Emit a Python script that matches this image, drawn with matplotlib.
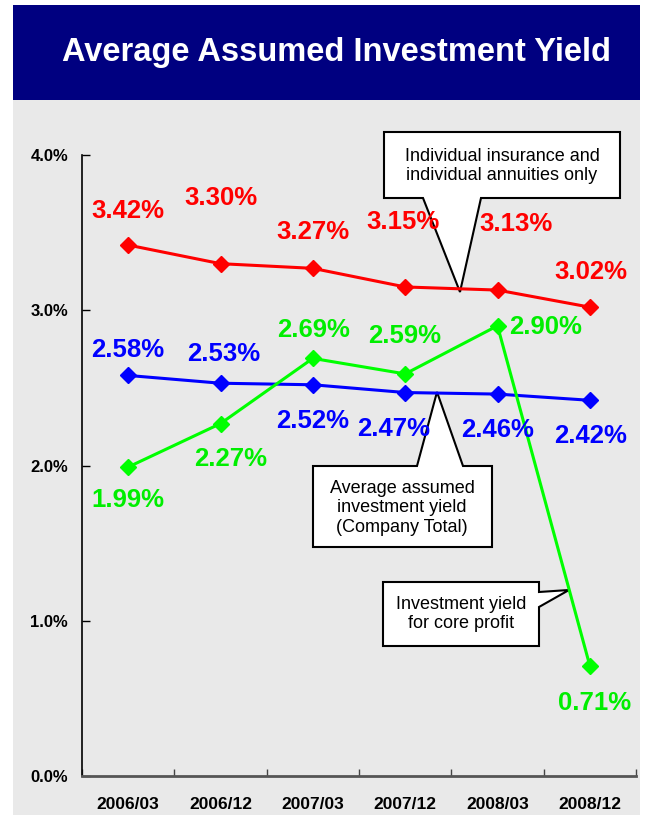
import matplotlib
matplotlib.use('Agg')
from matplotlib import pyplot as plt
from matplotlib.patches import Rectangle, Polygon

plt.rcParams['font.family'] = ['Liberation Sans', 'DejaVu Sans']

periods = ['2006/03', '2006/12', '2007/03', '2007/12', '2008/03', '2008/12']
individual = [3.42, 3.30, 3.27, 3.15, 3.13, 3.02]
company_total = [2.58, 2.53, 2.52, 2.47, 2.46, 2.42]
core_profit = [1.99, 2.27, 2.69, 2.59, 2.90, 0.71]
yticks = [0.0, 1.0, 2.0, 3.0, 4.0]

# label offsets in pixels (dx, dy)
red_off = [(0, 34), (0, 66), (0, 36), (-2, 65), (18, 66), (1, 35)]
blue_off = [(0, 25), (3, 29), (0, -36), (-12, -36), (0, -36), (1, -36)]
green_off = [(0, -33), (10, -35), (1, 28), (-1, 38), (48, -1), (5, -37)]

W, H = 650, 818
fig = plt.figure(figsize=(W / 100, H / 100), dpi=100)
fig.patch.set_facecolor('white')

# background panel + title banner
bg = fig.add_axes([0, 0, 1, 1], zorder=0)
bg.set_xlim(0, W)
bg.set_ylim(H, 0)
bg.axis('off')
bg.add_patch(Rectangle((13, 100), 627, 715, facecolor='#e9e9e9', edgecolor='none'))
bg.add_patch(Rectangle((13, 5), 627, 95, facecolor='#000080', edgecolor='none'))
bg.text(337, 53, 'Average Assumed Investment Yield', color='white', fontsize=23.5,
        fontweight='bold', ha='center', va='center')

# callout boxes (under the data lines and labels)
ov = fig.add_axes([0, 0, 1, 1], zorder=0.5)
ov.set_xlim(0, W)
ov.set_ylim(H, 0)
ov.axis('off')
ov.patch.set_alpha(0)

call1 = [(384, 132), (620, 132), (620, 198), (481, 198), (460, 292), (423, 198), (384, 198)]
call2 = [(313, 466), (417, 466), (437, 392), (463, 466), (492, 466), (492, 547), (313, 547)]
call3 = [(383, 582), (539, 582), (539, 592), (569, 590), (539, 607), (539, 646), (383, 646)]
for pts in [call1, call2, call3]:
    ov.add_patch(Polygon(pts, closed=True, facecolor='white', edgecolor='black', lw=1.5))

ov.text(502, 166, 'Individual insurance and\nindividual annuities only', ha='center',
        va='center', fontsize=13, linespacing=1.2)
ov.text(402, 508, 'Average assumed\ninvestment yield\n(Company Total)', ha='center',
        va='center', fontsize=13, linespacing=1.2)
ov.text(461, 614, 'Investment yield\nfor core profit', ha='center', va='center',
        fontsize=13, linespacing=1.2)

ax = fig.add_axes([82 / W, 1 - 776 / H, (636 - 82) / W, (776 - 155) / H], zorder=1)
ax.set_facecolor('none')
x = list(range(len(periods)))

ax.plot(x, individual, color='#ff0000', lw=2.2, marker='D', ms=8.5, zorder=3)
ax.plot(x, company_total, color='#0000ff', lw=2.2, marker='D', ms=8.5, zorder=3)
ax.plot(x, core_profit, color='#00ff00', lw=2.2, marker='D', ms=8.5, zorder=3)

for vals, offs, col in [(individual, red_off, '#ff0000'),
                        (company_total, blue_off, '#0000ff'),
                        (core_profit, green_off, '#00ee00')]:
    for i, v in enumerate(vals):
        ax.annotate(f'{v:.2f}%', (i, v), xytext=offs[i], textcoords='offset pixels',
                    ha='center', va='center', color=col, fontsize=18.5, fontweight='bold',
                    zorder=4)

ax.set_xlim(-0.5, len(periods) - 0.5)
ax.set_ylim(0, 4.0)
ax.set_yticks(yticks)
ax.set_yticklabels([f'{t:.1f}%' for t in yticks], fontsize=12, fontweight='bold')
ax.set_xticks(x)
ax.set_xticklabels(periods, fontsize=12.5, fontweight='bold')
ax.set_xticks([i - 0.5 for i in range(len(periods) + 1)], minor=True)
ax.tick_params(axis='x', which='major', length=0, pad=15)
ax.tick_params(axis='x', which='minor', direction='in', length=5, width=1, color='#444444')
ax.tick_params(axis='y', direction='in', length=6, width=1, pad=10)
for s in ['top', 'right']:
    ax.spines[s].set_visible(False)
ax.spines['left'].set_linewidth(1.2)
ax.spines['bottom'].set_linewidth(2)
ax.spines['bottom'].set_color('#555555')

fig.savefig('out.png', dpi=100)
